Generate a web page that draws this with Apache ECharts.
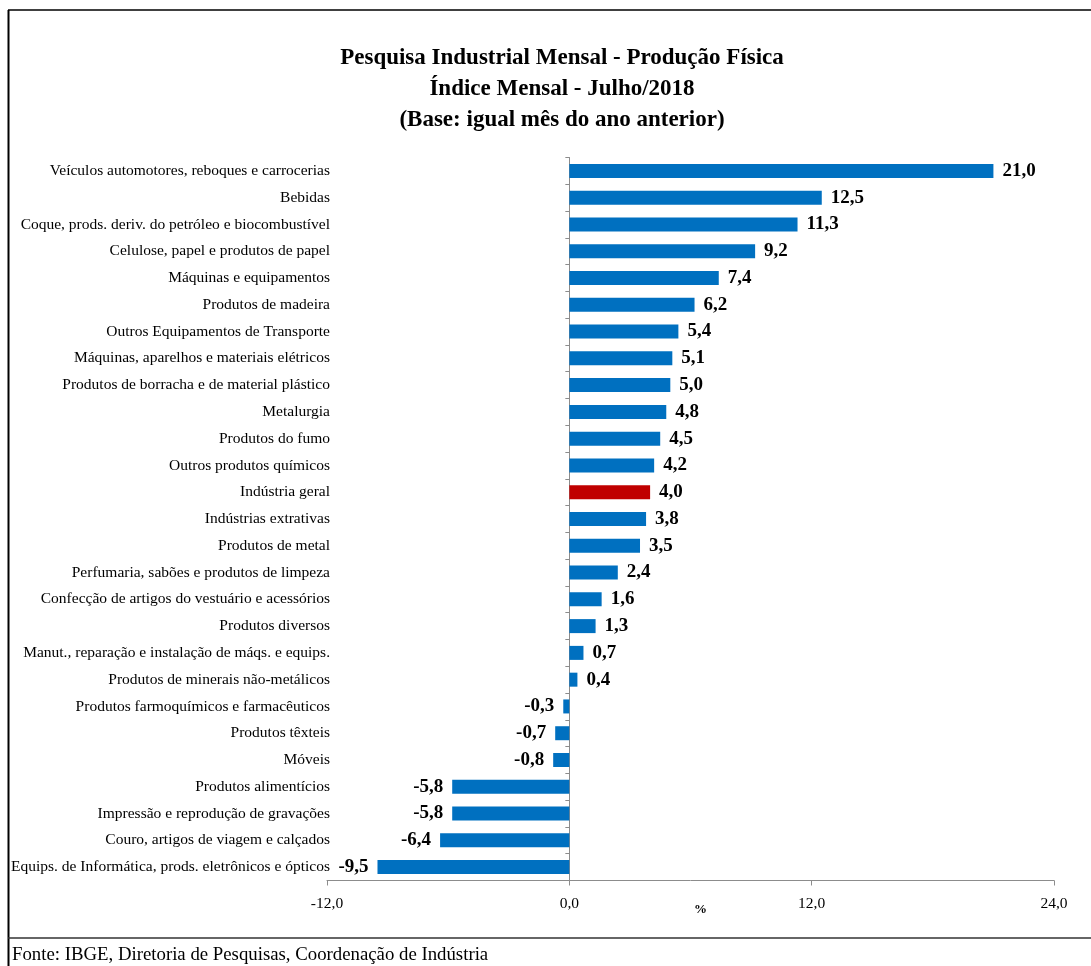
<!DOCTYPE html>
<html>
<head>
<meta charset="utf-8">
<script src="https://cdn.jsdelivr.net/npm/echarts@6/dist/echarts.min.js"></script>
<style>
html,body{margin:0;padding:0;background:#fff;}
#c{width:1091px;height:966px;}
</style>
</head>
<body>
<div id="c"></div>
<script>
const categories = [
  "Veículos automotores, reboques e carrocerias",
  "Bebidas",
  "Coque, prods. deriv. do petróleo e biocombustível",
  "Celulose, papel e produtos de papel",
  "Máquinas e equipamentos",
  "Produtos de madeira",
  "Outros Equipamentos de Transporte",
  "Máquinas, aparelhos e materiais elétricos",
  "Produtos de borracha e de material plástico",
  "Metalurgia",
  "Produtos do fumo",
  "Outros produtos químicos",
  "Indústria geral",
  "Indústrias extrativas",
  "Produtos de metal",
  "Perfumaria, sabões e produtos de limpeza",
  "Confecção de artigos do vestuário e acessórios",
  "Produtos diversos",
  "Manut., reparação e instalação de máqs. e equips.",
  "Produtos de minerais não-metálicos",
  "Produtos farmoquímicos e farmacêuticos",
  "Produtos têxteis",
  "Móveis",
  "Produtos alimentícios",
  "Impressão e reprodução de gravações",
  "Couro, artigos de viagem e calçados",
  "Equips. de Informática, prods. eletrônicos e ópticos"
];
const values = [21.0, 12.5, 11.3, 9.2, 7.4, 6.2, 5.4, 5.1, 5.0, 4.8, 4.5, 4.2, 4.0, 3.8, 3.5, 2.4, 1.6, 1.3, 0.7, 0.4, -0.3, -0.7, -0.8, -5.8, -5.8, -6.4, -9.5];
const highlightCategory = "Indústria geral";
const xTicks = [-12, 0, 12, 24];
const titleLines = ["Pesquisa Industrial Mensal - Produção Física", "Índice Mensal - Julho/2018", "(Base: igual mês do ano anterior)"];
const sourceText = "Fonte: IBGE, Diretoria de Pesquisas, Coordenação de Indústria";
const axisUnit = "%";

const FONT = "'Liberation Serif', 'DejaVu Serif', serif";
const fmt = v => v.toFixed(1).replace('.', ',');

const seriesData = values.map((v, i) => ({
  value: v,
  itemStyle: { color: categories[i] === highlightCategory ? '#C00000' : '#0070C0' },
  label: { position: v >= 0 ? 'right' : 'left' }
}));

const chart = echarts.init(document.getElementById('c'), null, { renderer: 'canvas' });
chart.setOption({
  animation: false,
  backgroundColor: '#ffffff',
  title: {
    text: titleLines.join('\n'),
    left: 557,
    textAlign: 'center',
    top: 38,
    textStyle: { fontFamily: FONT, fontSize: 23, fontWeight: 'bold', color: '#000', lineHeight: 31 }
  },
  grid: { left: 327, right: 37, top: 157.5, bottom: 85.5, containLabel: false, outerBoundsMode: 'none' },
  xAxis: {
    type: 'value',
    min: xTicks[0],
    max: xTicks[xTicks.length - 1],
    interval: 12,
    splitLine: { show: false },
    axisLine: { show: true, onZero: false, lineStyle: { color: '#8c8c8c', width: 1 } },
    axisTick: { show: true, length: 5, lineStyle: { color: '#8c8c8c' } },
    axisLabel: { fontFamily: FONT, fontSize: 15.5, color: '#000', margin: 15, formatter: v => fmt(v) }
  },
  yAxis: {
    type: 'category',
    data: categories,
    inverse: true,
    axisLine: { show: true, onZero: true, lineStyle: { color: '#8c8c8c', width: 1 } },
    axisTick: { show: true, length: 4, inside: false, lineStyle: { color: '#8c8c8c' } },
    axisLabel: { fontFamily: FONT, fontSize: 15.5, color: '#000', margin: -3, align: 'right' }
  },
  series: [{
    type: 'bar',
    data: seriesData,
    barWidth: 14,
    label: {
      show: true,
      distance: 9,
      fontFamily: FONT,
      fontSize: 19,
      fontWeight: 'bold',
      color: '#000',
      formatter: p => fmt(p.value)
    }
  }],
  graphic: [
    { type: 'line', shape: { x1: 8, y1: 10, x2: 1091, y2: 10 }, style: { stroke: '#000', lineWidth: 1.5 } },
    { type: 'line', shape: { x1: 8.5, y1: 10, x2: 8.5, y2: 966 }, style: { stroke: '#000', lineWidth: 2 } },
    { type: 'line', shape: { x1: 8, y1: 938, x2: 1091, y2: 938 }, style: { stroke: '#333', lineWidth: 1.5 } },
    { type: 'text', left: 694, top: 903, style: { text: axisUnit, font: "bold 13px 'Liberation Serif', serif", fill: '#000' } },
    { type: 'text', left: 12, top: 946, style: { text: sourceText, font: "18.8px 'Liberation Serif', serif", fill: '#000' } }
  ]
});
</script>
</body>
</html>
